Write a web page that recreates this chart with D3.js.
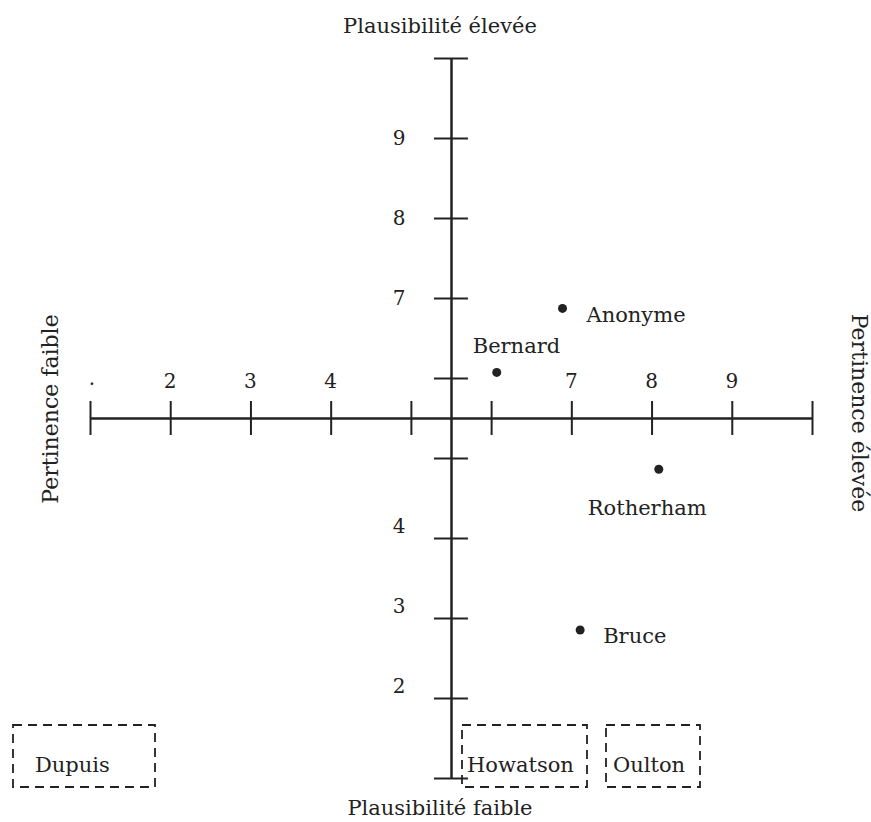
<!DOCTYPE html>
<html><head><meta charset="utf-8">
<script src="https://cdn.jsdelivr.net/npm/d3@7"></script>
<style>body{margin:0;background:#fff}svg{display:block}text{font-family:"DejaVu Serif",serif;fill:#222}</style>
</head><body><svg id="c" width="871" height="822"></svg>
<script>
// Data
const tickValues = [1,2,3,4,5,6,7,8,9,10];
const xTickLabels = [{v:1,t:"·"},{v:2,t:"2"},{v:3,t:"3"},{v:4,t:"4"},{v:7,t:"7"},{v:8,t:"8"},{v:9,t:"9"}];
const yTickLabels = [{v:9,t:"9"},{v:8,t:"8"},{v:7,t:"7"},{v:4,t:"4"},{v:3,t:"3"},{v:2,t:"2"}];
const names = ["Anonyme","Bernard","Rotherham","Bruce"];
const pertinence = [6.89, 6.07, 8.09, 7.11];
const plausibilite = [6.87, 6.07, 4.86, 2.85];
const unplaced = ["Dupuis","Howatson","Oulton"];
const axisTitles = {top:"Plausibilité élevée", bottom:"Plausibilité faible", left:"Pertinence faible", right:"Pertinence élevée"};
const crossAt = 5.5;

const svg = d3.select("#c");
const x = d3.scaleLinear().domain([1,10]).range([90,812]);
const y = d3.scaleLinear().domain([1,10]).range([778,58]);
const ink = "#222";
const T = 17;

// horizontal axis (ticks both sides)
svg.append("g").attr("transform",`translate(0,${y(crossAt)})`)
  .call(d3.axisBottom(x).tickValues(tickValues).tickSize(T).tickSizeOuter(0).tickFormat(""));
svg.append("g").attr("transform",`translate(0,${y(crossAt)})`)
  .call(d3.axisTop(x).tickValues(tickValues).tickSize(T).tickSizeOuter(0).tickFormat(""));
// vertical axis
svg.append("g").attr("transform",`translate(${x(crossAt)},0)`)
  .call(d3.axisLeft(y).tickValues(tickValues).tickSize(T).tickSizeOuter(0).tickFormat(""));
svg.append("g").attr("transform",`translate(${x(crossAt)},0)`)
  .call(d3.axisRight(y).tickValues(tickValues).tickSize(T).tickSizeOuter(0).tickFormat(""));
svg.selectAll(".domain, .tick line").attr("stroke",ink).attr("stroke-width",2);

// tick labels
svg.append("g").selectAll("text").data(xTickLabels).join("text")
  .attr("x",d=>x(d.v)+(d.v===1?2:0)).attr("y",d=>y(crossAt)-(d.v===1?27:30))
  .attr("text-anchor","middle").attr("font-size",20).text(d=>d.t);
svg.append("g").selectAll("text").data(yTickLabels).join("text")
  .attr("x",x(crossAt)-52).attr("y",d=>y(d.v)+7-(d.v<crossAt?12:0))
  .attr("text-anchor","middle").attr("font-size",20).text(d=>d.t);

// points
const pts = names.map((n,i)=>({n, px:pertinence[i], py:plausibilite[i]}));
svg.append("g").selectAll("circle").data(pts).join("circle")
  .attr("cx",d=>x(d.px)).attr("cy",d=>y(d.py)).attr("r",4.5).attr("fill",ink);
const labelPos = {Anonyme:[24,14], Bernard:[-24,-19], Rotherham:[-71,46], Bruce:[23,13]};
svg.append("g").selectAll("text").data(pts).join("text")
  .attr("x",d=>x(d.px)+labelPos[d.n][0]).attr("y",d=>y(d.py)+labelPos[d.n][1])
  .attr("font-size",21).text(d=>d.n);

// unplaced boxes
const boxes = [
  {n:"Dupuis", x0:13, x1:155, y0:725, y1:787, tx:35},
  {n:"Howatson", x0:462, x1:587, y0:725, y1:787, tx:467},
  {n:"Oulton", x0:606, x1:700, y0:725, y1:787, tx:613}
];
const bg = svg.append("g").selectAll("g").data(unplaced.map(n=>boxes.find(b=>b.n===n))).join("g");
bg.append("rect").attr("x",d=>d.x0).attr("y",d=>d.y0).attr("width",d=>d.x1-d.x0).attr("height",d=>d.y1-d.y0)
  .attr("fill","none").attr("stroke",ink).attr("stroke-width",1.8).attr("stroke-dasharray","9,6");
bg.append("text").attr("x",d=>d.tx).attr("y",772).attr("font-size",21).text(d=>d.n);

// axis titles
svg.append("text").attr("x",440).attr("y",33).attr("text-anchor","middle").attr("font-size",21).text(axisTitles.top);
svg.append("text").attr("x",440).attr("y",815).attr("text-anchor","middle").attr("font-size",21).text(axisTitles.bottom);
svg.append("text").attr("transform","translate(58,409) rotate(-90)").attr("text-anchor","middle").attr("font-size",22).text(axisTitles.left);
svg.append("text").attr("transform","translate(852,413) rotate(90)").attr("text-anchor","middle").attr("font-size",22).text(axisTitles.right);
</script></body></html>
